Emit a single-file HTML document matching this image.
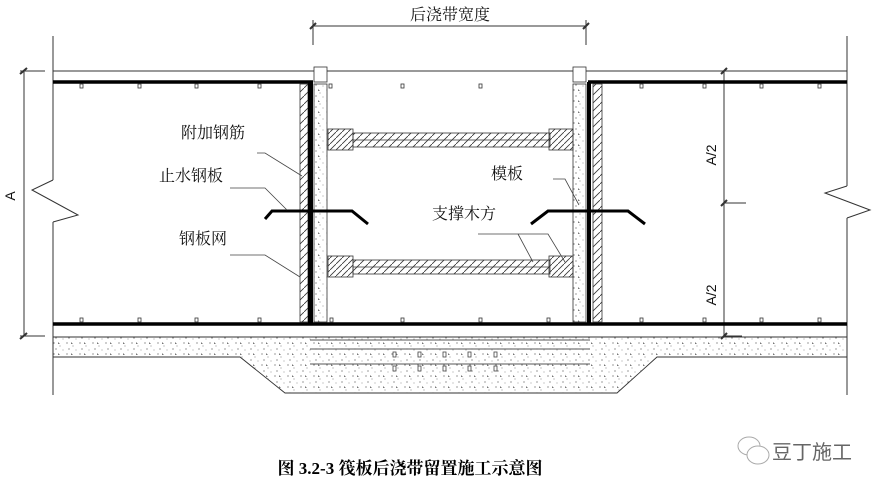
<!DOCTYPE html>
<html><head><meta charset="utf-8"><style>
html,body{margin:0;padding:0;background:#fff;}
svg{display:block;}
text{font-family:"Liberation Serif","Noto Serif CJK SC","Noto Sans CJK SC",serif;}
</style></head><body>
<svg width="880" height="489" viewBox="0 0 880 489" xmlns="http://www.w3.org/2000/svg">
<defs>
<pattern id="hat" width="8" height="8" patternUnits="userSpaceOnUse"><path d="M0 8 L8 0" stroke="#333" stroke-width="0.8"/></pattern>
<pattern id="hat2" width="6" height="6" patternUnits="userSpaceOnUse"><path d="M0 6 L6 0" stroke="#333" stroke-width="0.8"/></pattern>
<pattern id="dots" width="13" height="11" patternUnits="userSpaceOnUse">
<circle cx="2" cy="2" r="0.6" fill="#555"/><circle cx="8" cy="5" r="0.5" fill="#666"/><circle cx="4" cy="8" r="0.6" fill="#555"/><circle cx="11" cy="9" r="0.5" fill="#777"/><path d="M6 1 l2 2 l-2 0z" fill="#777"/>
</pattern>
</defs>
<g stroke="#333" fill="none" stroke-width="1">
<line x1="313" y1="26" x2="586" y2="26"/>
<line x1="313" y1="20" x2="313" y2="45"/>
<line x1="586" y1="20" x2="586" y2="45"/>
<line x1="310" y1="29" x2="316" y2="23" stroke-width="2"/>
<line x1="583" y1="29" x2="589" y2="23" stroke-width="2"/>
<line x1="53" y1="36" x2="53" y2="180"/><polyline points="53,180 32,190 78,215 53,222"/><line x1="53" y1="222" x2="53" y2="395"/>
<line x1="847" y1="36" x2="847" y2="186"/><polyline points="847,186 825,193 870,210 847,218"/><line x1="847" y1="218" x2="847" y2="395"/>
<line x1="53" y1="71" x2="847" y2="71"/>
<line x1="20" y1="71" x2="45" y2="71"/>
<line x1="24" y1="71" x2="24" y2="336"/>
<line x1="20" y1="74" x2="27" y2="68" stroke-width="2"/>
<line x1="20" y1="339" x2="27" y2="333" stroke-width="2"/>
<line x1="20" y1="336" x2="45" y2="336"/>
<line x1="724" y1="71" x2="724" y2="336"/>
<line x1="721" y1="74" x2="727" y2="68" stroke-width="2"/>
<line x1="721" y1="206" x2="727" y2="200" stroke-width="2"/>
<line x1="721" y1="339" x2="727" y2="333" stroke-width="2"/>
<line x1="724" y1="203" x2="746" y2="203"/>
<line x1="724" y1="336" x2="742" y2="336"/>
</g>
<g stroke="#000" stroke-width="3.5">
<line x1="53" y1="82" x2="313" y2="82"/><line x1="588" y1="82" x2="847" y2="82"/>
<line x1="53" y1="324" x2="847" y2="324"/>
</g>
<g stroke="#333" fill="#fff" stroke-width="0.8">
<rect x="80" y="84" width="3" height="4"/><rect x="138" y="84" width="3" height="4"/><rect x="195" y="84" width="3" height="4"/><rect x="258" y="84" width="3" height="4"/><rect x="329" y="84" width="3" height="4"/><rect x="401" y="84" width="3" height="4"/><rect x="479" y="84" width="3" height="4"/><rect x="640" y="84" width="3" height="4"/><rect x="703" y="84" width="3" height="4"/><rect x="760" y="84" width="3" height="4"/><rect x="818" y="84" width="3" height="4"/>
<rect x="80" y="318" width="3" height="4"/><rect x="138" y="318" width="3" height="4"/><rect x="195" y="318" width="3" height="4"/><rect x="258" y="318" width="3" height="4"/><rect x="330" y="318" width="3" height="4"/><rect x="401" y="318" width="3" height="4"/><rect x="479" y="318" width="3" height="4"/><rect x="547" y="318" width="3" height="4"/><rect x="640" y="318" width="3" height="4"/><rect x="703" y="318" width="3" height="4"/><rect x="760" y="318" width="3" height="4"/><rect x="818" y="318" width="3" height="4"/>
</g>
<rect x="300" y="84" width="8" height="238" fill="url(#hat)" stroke="#333" stroke-width="0.8"/>
<rect x="308" y="82" width="5" height="242" fill="#000"/>
<rect x="314" y="84" width="13" height="238" fill="url(#dots)" stroke="#333" stroke-width="0.8"/>
<rect x="314" y="67" width="13" height="15" fill="#fff" stroke="#333" stroke-width="0.8"/>
<rect x="573" y="84" width="13" height="238" fill="url(#dots)" stroke="#333" stroke-width="0.8"/>
<rect x="587" y="82" width="4" height="242" fill="#000"/>
<rect x="593" y="84" width="9" height="238" fill="url(#hat)" stroke="#333" stroke-width="0.8"/>
<rect x="573" y="67" width="13" height="15" fill="#fff" stroke="#333" stroke-width="0.8"/>
<g stroke="#333" stroke-width="0.8">
<rect x="353" y="133" width="197" height="14" fill="url(#hat)"/><line x1="353" y1="140" x2="550" y2="140"/>
<rect x="328" y="129" width="25" height="21" fill="url(#hat2)"/>
<rect x="549" y="129" width="24" height="21" fill="url(#hat2)"/>
<rect x="353" y="260" width="197" height="14" fill="url(#hat)"/><line x1="353" y1="267" x2="550" y2="267"/>
<rect x="328" y="256" width="25" height="21" fill="url(#hat2)"/>
<rect x="549" y="256" width="24" height="21" fill="url(#hat2)"/>
</g>
<g stroke="#000" stroke-width="3" fill="none">
<polyline points="265,219 272,211 352,211 368,224"/>
<polyline points="531,224 548,211 628,211 645,224"/>
</g>
<path d="M53 337 H847 V357 H657 L617 393 H285 L240 357 H53 Z" fill="url(#dots)" stroke="#333" stroke-width="0.9"/>
<g stroke="#555" stroke-width="1">
<line x1="310" y1="340" x2="590" y2="340"/><line x1="310" y1="349" x2="590" y2="349"/><line x1="310" y1="364" x2="590" y2="364"/>
</g>
<g stroke="#444" fill="#fff" stroke-width="0.8">
<rect x="393" y="352" width="3" height="5"/><rect x="418" y="352" width="3" height="5"/><rect x="443" y="352" width="3" height="5"/><rect x="468" y="352" width="3" height="5"/><rect x="494" y="352" width="3" height="5"/>
<rect x="393" y="366" width="3" height="5"/><rect x="418" y="366" width="3" height="5"/><rect x="443" y="366" width="3" height="5"/><rect x="468" y="366" width="3" height="5"/><rect x="494" y="366" width="3" height="5"/>
</g>
<g stroke="#444" stroke-width="0.8" fill="none">
<polyline points="257,153 265,153 302,176"/>
<polyline points="230,188 265,188 287,210"/>
<polyline points="230,255 265,255 300,277"/>
<polyline points="553,179 565,179 579,205"/>
<polyline points="478,234 548,234 565,262"/>
<line x1="518" y1="234" x2="533" y2="262"/>
</g>
<g font-size="16" fill="#111">
<text x="450" y="20" text-anchor="middle">后浇带宽度</text>
<text x="181" y="138">附加钢筋</text>
<text x="159" y="181">止水钢板</text>
<text x="179" y="244">钢板网</text>
<text x="491" y="179">模板</text>
<text x="432" y="219">支撑木方</text>
</g>
<g font-size="14" fill="#111">
<text transform="translate(15,196) rotate(-90)" text-anchor="middle" style="font-family:'Liberation Sans',sans-serif">A</text>
<text transform="translate(716,155) rotate(-90)" text-anchor="middle" style="font-family:'Liberation Sans',sans-serif">A/2</text>
<text transform="translate(716,295) rotate(-90)" text-anchor="middle" style="font-family:'Liberation Sans',sans-serif">A/2</text>
</g>
<text x="410" y="474" text-anchor="middle" font-size="17" font-weight="bold" fill="#000">图 3.2-3  筏板后浇带留置施工示意图</text>
<g stroke="#aaa" fill="#fff" stroke-width="1">
<ellipse cx="749" cy="446" rx="11" ry="9"/><ellipse cx="758" cy="455" rx="11" ry="9"/>
</g>
<text x="772" y="459" font-size="20" fill="#666" style="font-family:'Liberation Sans','Noto Sans CJK SC',sans-serif">豆丁施工</text>
</svg>
</body></html>
